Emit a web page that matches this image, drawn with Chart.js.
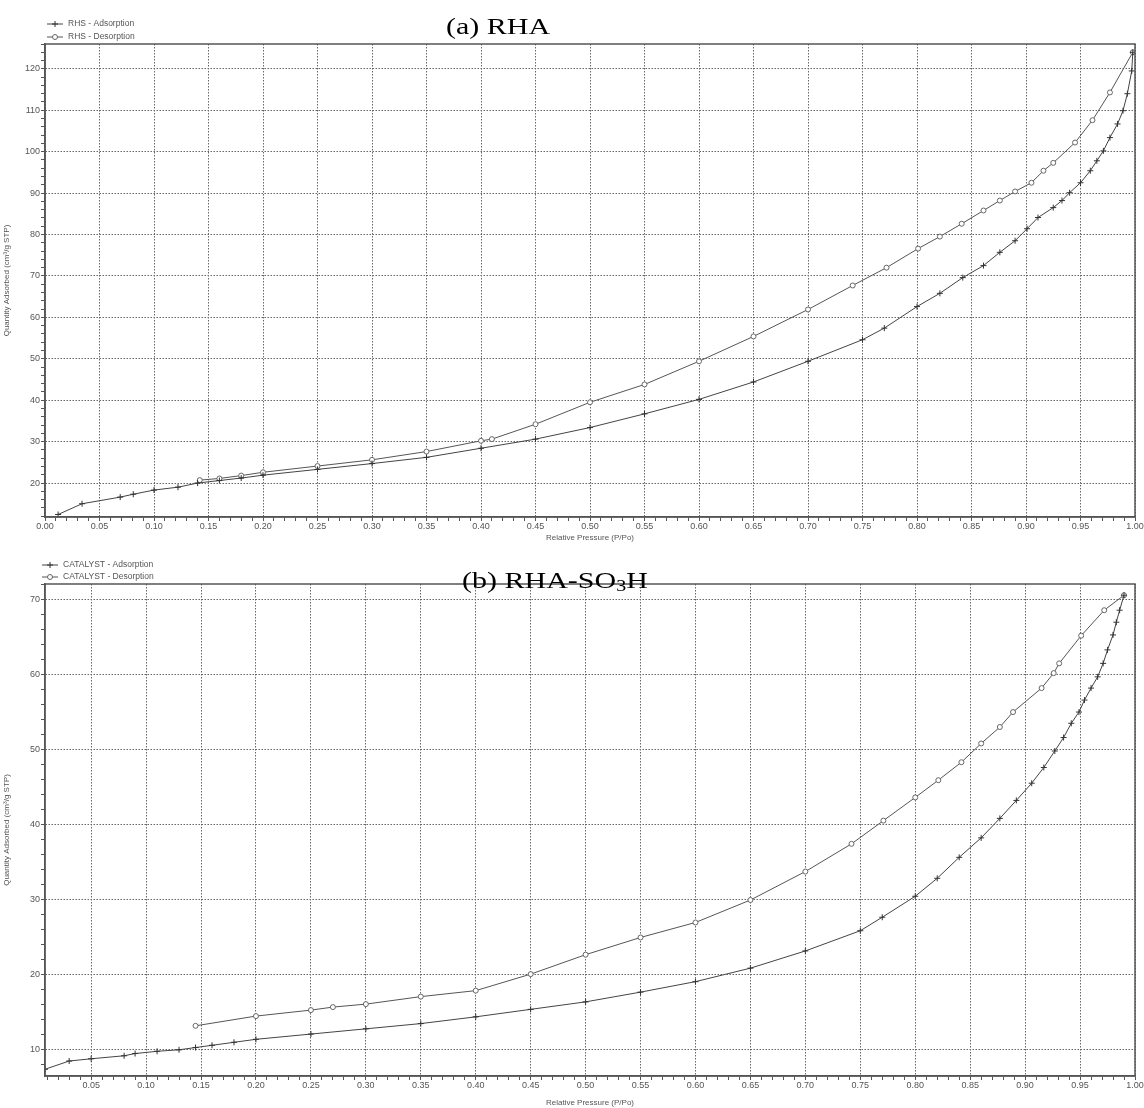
<!DOCTYPE html>
<html>
<head>
<meta charset="utf-8">
<script src="https://cdn.jsdelivr.net/npm/chart.js@4.4.1/dist/chart.umd.min.js"></script>
<style>
  body { margin: 0; background: #fff; }
  #page { position: relative; width: 1144px; height: 1108px; }
  canvas { position: absolute; left: 0; }
  #chartA { top: 0; }
  #chartB { top: 543px; }
  .title {
    position: absolute;
    font-family: "Liberation Serif", "Times New Roman", serif;
    font-size: 24px;
    line-height: 1;
    color: #000;
    transform: scaleX(1.25);
    transform-origin: left top;
    white-space: nowrap;
  }
  .title sub { font-size: 16px; vertical-align: -3px; line-height: 0; }
</style>
</head>
<body>
<div id="page">
  <canvas id="chartA" width="1144" height="543"></canvas>
  <canvas id="chartB" width="1144" height="565"></canvas>
  <div class="title" style="left:446px; top:14px;">(a) RHA</div>
  <div class="title" style="left:462px; top:568px;">(b) RHA-SO<sub>3</sub>H</div>
</div>
<script>
// (a) RHA isotherm
const rhaAdsP = [0.012, 0.034, 0.069, 0.081, 0.100, 0.122, 0.140, 0.16, 0.18, 0.20, 0.25, 0.30, 0.35, 0.40, 0.45, 0.50, 0.55, 0.60, 0.65, 0.70, 0.75, 0.77, 0.80, 0.821, 0.842, 0.861, 0.876, 0.890, 0.901, 0.911, 0.925, 0.933, 0.940, 0.950, 0.959, 0.965, 0.971, 0.977, 0.984, 0.989, 0.993, 0.997, 0.998];
const rhaAdsQ = [12.4, 15.0, 16.6, 17.3, 18.3, 19.0, 20.0, 20.6, 21.2, 21.9, 23.3, 24.7, 26.2, 28.4, 30.6, 33.4, 36.7, 40.2, 44.4, 49.4, 54.6, 57.4, 62.6, 65.8, 69.6, 72.5, 75.7, 78.5, 81.4, 84.1, 86.5, 88.2, 90.1, 92.5, 95.4, 97.8, 100.2, 103.4, 106.7, 109.9, 114.0, 119.5, 124.0];
const rhaDesP = [0.998, 0.977, 0.961, 0.945, 0.925, 0.916, 0.905, 0.890, 0.876, 0.861, 0.841, 0.821, 0.801, 0.772, 0.741, 0.70, 0.65, 0.60, 0.55, 0.50, 0.45, 0.41, 0.40, 0.35, 0.30, 0.25, 0.20, 0.18, 0.16, 0.142];
const rhaDesQ = [124.0, 114.3, 107.6, 102.2, 97.3, 95.4, 92.5, 90.4, 88.2, 85.8, 82.6, 79.5, 76.6, 72.0, 67.7, 61.9, 55.4, 49.4, 43.8, 39.5, 34.2, 30.6, 30.2, 27.6, 25.6, 24.1, 22.6, 21.8, 21.1, 20.7];

// (b) RHA-SO3H isotherm
const catAdsP = [0.008, 0.03, 0.05, 0.08, 0.09, 0.11, 0.13, 0.145, 0.16, 0.18, 0.20, 0.25, 0.30, 0.35, 0.40, 0.45, 0.50, 0.55, 0.60, 0.65, 0.70, 0.75, 0.77, 0.80, 0.82, 0.840, 0.860, 0.877, 0.892, 0.906, 0.917, 0.927, 0.935, 0.942, 0.949, 0.954, 0.960, 0.966, 0.971, 0.975, 0.980, 0.983, 0.986, 0.990];
const catAdsQ = [7.3, 8.4, 8.7, 9.1, 9.4, 9.7, 9.9, 10.2, 10.5, 10.9, 11.3, 12.0, 12.7, 13.4, 14.3, 15.3, 16.3, 17.6, 19.0, 20.8, 23.1, 25.8, 27.6, 30.4, 32.8, 35.6, 38.2, 40.8, 43.2, 45.5, 47.6, 49.8, 51.6, 53.5, 55.0, 56.6, 58.2, 59.7, 61.5, 63.3, 65.3, 67.0, 68.6, 70.6];
const catDesP = [0.990, 0.972, 0.951, 0.931, 0.926, 0.915, 0.889, 0.877, 0.860, 0.842, 0.821, 0.800, 0.771, 0.742, 0.70, 0.65, 0.60, 0.55, 0.50, 0.45, 0.40, 0.35, 0.30, 0.27, 0.25, 0.20, 0.145];
const catDesQ = [70.6, 68.6, 65.2, 61.5, 60.2, 58.2, 55.0, 53.0, 50.8, 48.3, 45.9, 43.6, 40.5, 37.4, 33.7, 29.9, 26.9, 24.9, 22.6, 20.0, 17.8, 17.0, 16.0, 15.6, 15.2, 14.4, 13.1];

const axisFont = { family: '"Liberation Sans", Arial, sans-serif', size: 9 };
const textGray = '#555';

function pairs(xs, ys) {
    return xs.map((x, i) => ({ x: x, y: ys[i] }));
}

// ticks every `step`, labelled only every `every` steps
function stepTicks(scale, step, every) {
    const ticks = [];
    const start = Math.ceil(scale.min / step - 1e-9);
    for (let i = start; i * step <= scale.max + 1e-9; i++) {
        ticks.push({ value: +(i * step).toFixed(4), major: i % every === 0 });
    }
    scale.ticks = ticks;
}

function xAxis(min, height) {
    return {
        type: 'linear',
        min: min,
        max: 1.0,
        afterBuildTicks: s => stepTicks(s, 0.01, 5),
        afterFit: s => { s.height = height; },
        ticks: {
            autoSkip: false, maxRotation: 0, minRotation: 0, padding: 0,
            color: textGray, font: axisFont,
            callback: function (v, i, ticks) { return ticks[i].major ? v.toFixed(2) : ''; }
        },
        grid: {
            color: c => (c.tick && c.tick.major) ? '#666' : 'rgba(0,0,0,0)',
            tickColor: '#555', tickLength: 4, lineWidth: 1
        },
        border: { display: true, color: '#555', width: 1.5, dash: [1.5, 1.5] },
        title: { display: true, text: 'Relative Pressure (P/Po)', color: textGray, font: { family: axisFont.family, size: 8 }, padding: { top: 1, bottom: 0 } }
    };
}

function yAxis(min, max) {
    return {
        min: min,
        max: max,
        afterBuildTicks: s => stepTicks(s, 2, 5),
        afterFit: s => { s.width = 45; },
        ticks: {
            autoSkip: false, padding: 1,
            color: textGray, font: axisFont,
            callback: function (v, i, ticks) { return ticks[i].major ? String(v) : ''; }
        },
        grid: {
            color: c => (c.tick && c.tick.major) ? '#666' : 'rgba(0,0,0,0)',
            tickColor: '#555', tickLength: 4, lineWidth: 1
        },
        border: { display: true, color: '#555', width: 1.5, dash: [1.5, 1.5] },
        title: { display: true, text: 'Quantity Adsorbed (cm³/g STP)', color: textGray, font: { family: axisFont.family, size: 8 }, padding: { top: 2, bottom: 0 } }
    };
}

// frame round the plot area
const frame = {
    id: 'frame',
    afterDatasetsDraw(chart) {
        const a = chart.chartArea, ctx = chart.ctx;
        ctx.save();
        ctx.strokeStyle = '#555';
        ctx.lineWidth = 1.5;
        ctx.strokeRect(a.left, a.top, a.right - a.left, a.bottom - a.top);
        ctx.restore();
    }
};

// small stacked legend above the top-left corner
const cornerLegend = {
    id: 'cornerLegend',
    afterDraw(chart, args, opts) {
        const ctx = chart.ctx;
        chart.data.datasets.forEach((ds, i) => {
            const y = opts.y + i * opts.gap;
            ctx.save();
            ctx.strokeStyle = ds.borderColor;
            ctx.lineWidth = 1;
            ctx.beginPath();
            ctx.moveTo(opts.x, y);
            ctx.lineTo(opts.x + 16, y);
            ctx.stroke();
            ctx.fillStyle = ds.pointBackgroundColor;
            ctx.strokeStyle = ds.pointBorderColor;
            Chart.helpers.drawPoint(ctx, { pointStyle: ds.pointStyle, radius: ds.pointRadius, rotation: 0, borderWidth: 1 }, opts.x + 8, y);
            ctx.fillStyle = textGray;
            ctx.font = '8.5px "Liberation Sans", Arial, sans-serif';
            ctx.textBaseline = 'middle';
            ctx.fillText(ds.label, opts.x + 21, y);
            ctx.restore();
        });
    }
};

function adsSet(label, xs, ys) {
    return {
        label: label,
        data: pairs(xs, ys),
        borderColor: '#444', borderWidth: 1,
        pointStyle: 'cross', pointRadius: 3, pointBorderWidth: 1,
        pointBorderColor: '#333', pointBackgroundColor: '#333',
        tension: 0, fill: false
    };
}

function desSet(label, xs, ys) {
    return {
        label: label,
        data: pairs(xs, ys),
        borderColor: '#555', borderWidth: 1,
        pointStyle: 'circle', pointRadius: 2.5, pointBorderWidth: 1,
        pointBorderColor: '#666', pointBackgroundColor: '#fff',
        tension: 0, fill: false
    };
}

function makeChart(id, datasets, opts) {
    return new Chart(document.getElementById(id), {
        type: 'line',
        data: { datasets: datasets },
        options: {
            responsive: false,
            animation: false,
            layout: { padding: { top: opts.top, right: 9, left: 0, bottom: 0 } },
            plugins: {
                legend: { display: false },
                tooltip: { enabled: false },
                cornerLegend: opts.legend
            },
            scales: {
                x: xAxis(opts.xMin, opts.xHeight),
                y: yAxis(opts.yMin, opts.yMax)
            }
        },
        plugins: [frame, cornerLegend]
    });
}

makeChart('chartA', [
    adsSet('RHS - Adsorption', rhaAdsP, rhaAdsQ),
    desSet('RHS - Desorption', rhaDesP, rhaDesQ)
], { top: 44, xMin: 0, xHeight: 26, yMin: 11.8, yMax: 126, legend: { x: 47, y: 24, gap: 13 } });

makeChart('chartB', [
    adsSet('CATALYST - Adsorption', catAdsP, catAdsQ),
    desSet('CATALYST - Desorption', catDesP, catDesQ)
], { top: 41, xMin: 0.008, xHeight: 32, yMin: 6.4, yMax: 72.1, legend: { x: 42, y: 22, gap: 12 } });
</script>
</body>
</html>
